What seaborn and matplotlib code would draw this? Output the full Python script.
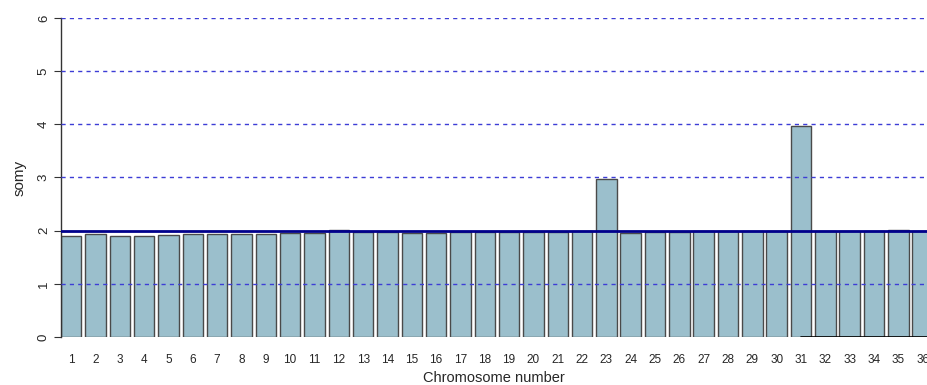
import matplotlib
matplotlib.use("Agg")
import matplotlib.pyplot as plt
import seaborn as sns
import pandas as pd

# Somy estimate per chromosome
chromosomes = [str(i) for i in range(1, 37)]
somy = [1.90, 1.93, 1.90, 1.90, 1.91, 1.93, 1.94, 1.93, 1.93, 1.96,
        1.96, 2.01, 1.97, 1.97, 1.96, 1.95, 1.98, 1.98, 1.98, 1.98,
        1.98, 1.99, 2.98, 1.95, 1.98, 1.97, 1.99, 1.99, 1.99, 1.99,
        3.97, 1.99, 1.99, 1.99, 2.02, 2.00]
y_ticks = [0, 1, 2, 3, 4, 5, 6]
baseline = 2

sns.set_theme(style="white")
plt.rcParams["font.family"] = ["Liberation Sans", "DejaVu Sans"]

df = pd.DataFrame({"chromosome": chromosomes, "somy": somy})

fig = plt.figure(figsize=(9.27, 3.85), dpi=100)
ax = fig.add_axes([0.0658, 0.1247, 0.9342, 0.8286])

sns.barplot(data=df, x="chromosome", y="somy", ax=ax, color="#9bbfcc",
            saturation=1, width=0.84, edgecolor="#4a4a4a", linewidth=1.0,
            zorder=2)

# reference grid and expected diploid level
for t in y_ticks:
    if t == 0 or t == baseline:
        continue
    ax.axhline(t, color="#3d3dd6", linestyle=(0, (3, 3)), linewidth=1.0,
               zorder=3, snap=True)
ax.axhline(baseline, color="#00008b", linewidth=2.0, zorder=4)
ax.plot([30, 36], [0, 0], color="black", linewidth=1.2, zorder=4,
        clip_on=True)

ax.set_xlim(-0.42, 35.18)
ax.set_ylim(0, 6)
ax.set_yticks(y_ticks)
ax.set_yticklabels([str(t) for t in y_ticks], rotation=90, va="center",
                   fontsize=9.5)
ax.tick_params(axis="y", left=True, length=5, width=0.8, color="#333333",
               pad=3)
ax.tick_params(axis="x", bottom=False, labelsize=8.5, pad=6)

for side in ["top", "right", "bottom"]:
    ax.spines[side].set_visible(False)
ax.spines["left"].set_color("#333333")
ax.spines["left"].set_linewidth(1.0)
ax.spines["left"].set_bounds(0, 6)

ax.set_xlabel("Chromosome number", fontsize=10.5, labelpad=4)
ax.set_ylabel("somy", fontsize=11, labelpad=8)

fig.savefig("out.png", dpi=100)
